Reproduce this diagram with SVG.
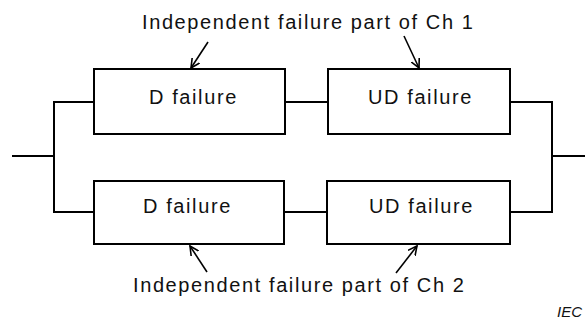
<svg xmlns="http://www.w3.org/2000/svg" width="585" height="320" viewBox="0 0 585 320">
  <style>
    .box { fill: #ffffff; stroke: #000000; stroke-width: 2; }
    .wire { fill: none; stroke: #000000; stroke-width: 2; }
    .ptr { fill: none; stroke: #000000; stroke-width: 1.6; marker-end: url(#head); }
    .lbl { font-family: "Liberation Sans", Arial, sans-serif; font-size: 20px; letter-spacing: 1.6px; fill: #111111; }
    .tag { font-family: "Liberation Sans", Arial, sans-serif; font-size: 15px; font-style: italic; fill: #111111; }
  </style>
  <defs>
    <marker id="head" viewBox="0 0 10 10" refX="9" refY="5" markerWidth="10" markerHeight="10" markerUnits="userSpaceOnUse" orient="auto">
      <polyline points="0,0.5 9,5 0,9.5" fill="none" stroke="#000000" stroke-width="1.6"/>
    </marker>
  </defs>

  <!-- connectors -->
  <g id="connectors">
    <polyline class="wire" points="12,156 54,156"/>
    <polyline class="wire" points="94,102 54,102 54,212 94,212"/>
    <line class="wire" x1="285" y1="102" x2="328" y2="102"/>
    <line class="wire" x1="285" y1="212" x2="327" y2="212"/>
    <polyline class="wire" points="510,102 552,102 552,212 510,212"/>
    <line class="wire" x1="552" y1="156" x2="585" y2="156"/>
    <line class="ptr" x1="208" y1="42" x2="191" y2="68"/>
    <line class="ptr" x1="404" y1="36" x2="419" y2="68"/>
    <line class="ptr" x1="207" y1="272" x2="190" y2="246"/>
    <line class="ptr" x1="396" y1="273" x2="417" y2="246"/>
  </g>

  <g id="d-ch1">
    <rect class="box" x="94" y="69" width="191" height="65"/>
    <text class="lbl" x="149" y="104">D failure</text>
  </g>
  <g id="ud-ch1">
    <rect class="box" x="328" y="69" width="182" height="65"/>
    <text class="lbl" x="368" y="104">UD failure</text>
  </g>
  <g id="d-ch2">
    <rect class="box" x="94" y="181" width="190" height="63"/>
    <text class="lbl" x="143" y="213">D failure</text>
  </g>
  <g id="ud-ch2">
    <rect class="box" x="327" y="181" width="183" height="63"/>
    <text class="lbl" x="369" y="213">UD failure</text>
  </g>

  <g id="note-ch1">
    <text class="lbl" x="142" y="29">Independent failure part of Ch 1</text>
  </g>
  <g id="note-ch2">
    <text class="lbl" x="133" y="292">Independent failure part of Ch 2</text>
  </g>

  <text class="tag" x="557" y="317">IEC</text>
</svg>
